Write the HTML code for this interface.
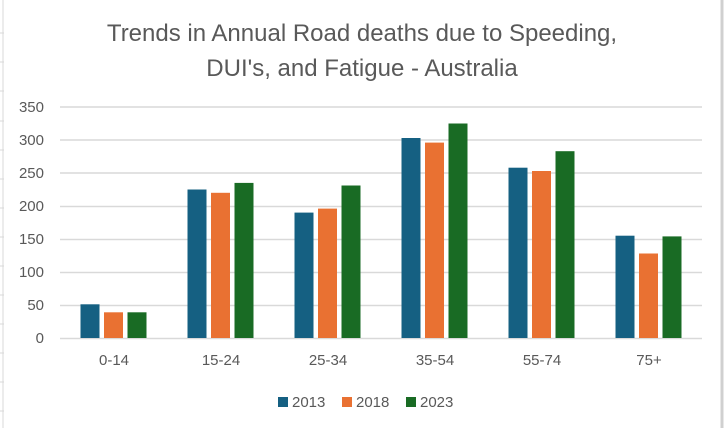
<!DOCTYPE html>
<html><head><style>
body{margin:0;background:#fff;}
svg{display:block;font-family:"Liberation Sans",sans-serif;}
</style></head><body>
<svg width="724" height="428" viewBox="0 0 724 428">
<rect width="724" height="428" fill="#fff"/>
<line x1="722" y1="0" x2="722" y2="428" stroke="#d0d0d0" stroke-width="3"/>
<line x1="3" y1="0" x2="3" y2="428" stroke="#d9d9d9" stroke-width="1"/>
<g stroke="#d9d9d9"><line x1="0" y1="33" x2="4" y2="33"/><line x1="0" y1="62" x2="4" y2="62"/><line x1="0" y1="91" x2="4" y2="91"/><line x1="0" y1="121" x2="4" y2="121"/><line x1="0" y1="150" x2="4" y2="150"/><line x1="0" y1="179" x2="4" y2="179"/><line x1="0" y1="208" x2="4" y2="208"/><line x1="0" y1="237" x2="4" y2="237"/><line x1="0" y1="266" x2="4" y2="266"/><line x1="0" y1="295" x2="4" y2="295"/><line x1="0" y1="324" x2="4" y2="324"/><line x1="0" y1="353" x2="4" y2="353"/><line x1="0" y1="382" x2="4" y2="382"/><line x1="0" y1="411" x2="4" y2="411"/></g>
<text x="362" y="41" text-anchor="middle" font-size="24" fill="#595959">Trends in Annual Road deaths due to Speeding,</text>
<text x="362" y="76" text-anchor="middle" font-size="24" fill="#595959">DUI's, and Fatigue - Australia</text>
<g stroke="#d9d9d9" stroke-width="1.5">
<line x1="60" x2="702" y1="107" y2="107"/><line x1="60" x2="702" y1="140" y2="140"/><line x1="60" x2="702" y1="173" y2="173"/><line x1="60" x2="702" y1="206.5" y2="206.5"/><line x1="60" x2="702" y1="239.5" y2="239.5"/><line x1="60" x2="702" y1="272.5" y2="272.5"/><line x1="60" x2="702" y1="305.5" y2="305.5"/><line x1="60" x2="702" y1="338.5" y2="338.5"/>
</g>
<g font-size="15" fill="#595959" text-anchor="end">
<text x="44" y="112">350</text><text x="44" y="145">300</text><text x="44" y="178">250</text><text x="44" y="211">200</text><text x="44" y="244">150</text><text x="44" y="277">100</text><text x="44" y="310">50</text><text x="44" y="343">0</text>
</g>
<g fill="#156082">
<rect x="80.5" y="304.3" width="19" height="33.7"/>
<rect x="187.5" y="189.5" width="19" height="148.5"/>
<rect x="294.5" y="212.6" width="19" height="125.4"/>
<rect x="401.5" y="138" width="19" height="200"/>
<rect x="508.5" y="167.7" width="19" height="170.3"/>
<rect x="615.5" y="235.7" width="19" height="102.3"/>
</g>
<g fill="#E97132">
<rect x="104" y="312.3" width="19" height="25.7"/>
<rect x="211" y="192.8" width="19" height="145.2"/>
<rect x="318" y="208.6" width="19" height="129.4"/>
<rect x="425" y="142.6" width="19" height="195.4"/>
<rect x="532" y="171" width="19" height="167"/>
<rect x="639" y="253.5" width="19" height="84.5"/>
</g>
<g fill="#196B24">
<rect x="127.5" y="312.3" width="19" height="25.7"/>
<rect x="234.5" y="182.9" width="19" height="155.1"/>
<rect x="341.5" y="185.5" width="19" height="152.5"/>
<rect x="448.5" y="123.5" width="19" height="214.5"/>
<rect x="555.5" y="151.2" width="19" height="186.8"/>
<rect x="662.5" y="236.4" width="19" height="101.6"/>
</g>
<g font-size="15" fill="#595959" text-anchor="middle">
<text x="114" y="365">0-14</text><text x="221" y="365">15-24</text><text x="328" y="365">25-34</text><text x="435" y="365">35-54</text><text x="542" y="365">55-74</text><text x="649" y="365">75+</text>
</g>
<g font-size="15" fill="#595959">
<rect x="278" y="397" width="10" height="10" fill="#156082"/><text x="292" y="407">2013</text>
<rect x="342" y="397" width="10" height="10" fill="#E97132"/><text x="356" y="407">2018</text>
<rect x="406" y="397" width="10" height="10" fill="#196B24"/><text x="420" y="407">2023</text>
</g>
</svg>
</body></html>
